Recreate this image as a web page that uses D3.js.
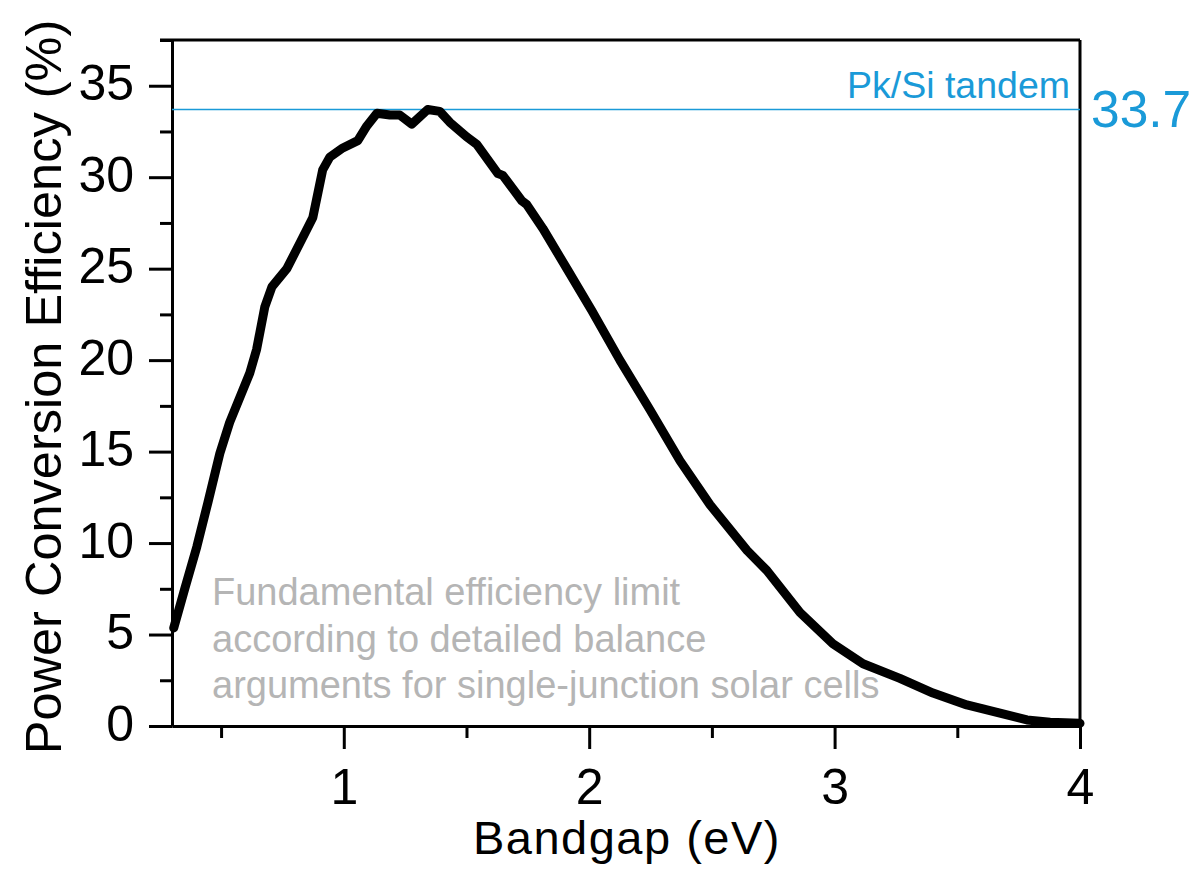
<!DOCTYPE html>
<html>
<head>
<meta charset="utf-8">
<script src="https://cdn.jsdelivr.net/npm/d3@7"></script>
<style>
  html, body { margin: 0; padding: 0; background: #fff; }
  svg { display: block; font-family: Arial, "Liberation Sans", sans-serif; }
</style>
</head>
<body>
<svg id="chart" width="1199" height="873"></svg>
<script>
// ---- Data ----
const bandgap = [0.307, 0.352, 0.401, 0.446, 0.495, 0.535, 0.617, 0.645, 0.678, 0.707,
  0.768, 0.825, 0.874, 0.914, 0.943, 0.996, 1.057, 1.094, 1.135, 1.188,
  1.228, 1.277, 1.342, 1.391, 1.432, 1.501, 1.542, 1.628, 1.648, 1.726,
  1.746, 1.811, 1.909, 2.011, 2.125, 2.247, 2.370, 2.492, 2.643, 2.724,
  2.859, 2.993, 3.116, 3.266, 3.401, 3.539, 3.674, 3.784, 3.878, 4.0];
const efficiency = [5.36, 7.5, 9.79, 12.2, 14.9, 16.6, 19.3, 20.6, 22.9, 24.0,
  25.0, 26.5, 27.8, 30.4, 31.1, 31.6, 32.0, 32.8, 33.5, 33.4,
  33.4, 32.9, 33.7, 33.6, 33.0, 32.2, 31.8, 30.2, 30.1, 28.7,
  28.5, 27.2, 25.0, 22.7, 20.0, 17.3, 14.5, 12.1, 9.6, 8.5,
  6.2, 4.5, 3.4, 2.6, 1.8, 1.15, 0.7, 0.33, 0.2, 0.15];
const tandemValue = 33.7;
const tandemLabel = "Pk/Si tandem";
const xMajorTicks = [1, 2, 3, 4];
const xMinorTicks = [0.5, 1.5, 2.5, 3.5];
const yMajorTicks = [0, 5, 10, 15, 20, 25, 30, 35];
const yMinorTicks = [2.5, 7.5, 12.5, 17.5, 22.5, 27.5, 32.5, 37.5];
const xTitle = "Bandgap (eV)";
const yTitle = "Power Conversion Efficiency (%)";
const noteLines = ["Fundamental efficiency limit",
  "according to detailed balance",
  "arguments for single-junction solar cells"];

// ---- Layout ----
const W = 1199, H = 873;
const m = { left: 172, right: 1199 - 1080, top: 40, bottom: 873 - 726 };
const iw = W - m.left - m.right, ih = H - m.top - m.bottom;
const blue = "#1a9ad8";
const gray = "#b5b5b5";
const FONT = "Arial, 'Liberation Sans', sans-serif";

const svg = d3.select("#chart");
const g = svg.append("g").attr("transform", `translate(${m.left},${m.top})`);

const x = d3.scaleLinear().domain([0.3, 4]).range([0, iw]);
const y = d3.scaleLinear().domain([0, 37.5]).range([ih, 0]);

// frame (top + right)
g.append("line").attr("x1", -12).attr("x2", iw).attr("y1", 0).attr("y2", 0)
  .attr("stroke", "#000").attr("stroke-width", 3);
g.append("line").attr("x1", iw).attr("x2", iw).attr("y1", 0).attr("y2", ih)
  .attr("stroke", "#000").attr("stroke-width", 3);

// axes
function styleAxis(sel) {
  sel.select(".domain").attr("stroke-width", 3);
  sel.selectAll(".tick line").attr("stroke-width", 3);
}
const xMajor = g.append("g").attr("transform", `translate(0,${ih})`)
  .call(d3.axisBottom(x).tickValues(xMajorTicks).tickSize(23).tickSizeOuter(0).tickPadding(19).tickFormat(d3.format("d")));
styleAxis(xMajor);
xMajor.selectAll("text").attr("font-size", 50).attr("fill", "#000").attr("font-family", FONT);
const xMinor = g.append("g").attr("transform", `translate(0,${ih})`)
  .call(d3.axisBottom(x).tickValues(xMinorTicks).tickSize(12).tickSizeOuter(0).tickFormat(""));
styleAxis(xMinor);

const yMajor = g.append("g")
  .call(d3.axisLeft(y).tickValues(yMajorTicks).tickSize(23).tickSizeOuter(0).tickPadding(15).tickFormat(d3.format("d")));
styleAxis(yMajor);
yMajor.selectAll("text").attr("font-size", 50).attr("fill", "#000").attr("font-family", FONT).attr("dy", "0.28em");
const yMinor = g.append("g")
  .call(d3.axisLeft(y).tickValues(yMinorTicks).tickSize(12).tickSizeOuter(0).tickFormat(""));
styleAxis(yMinor);
yMinor.select(".domain").remove();

// tandem line
g.append("line").attr("x1", 0).attr("x2", iw)
  .attr("y1", y(tandemValue)).attr("y2", y(tandemValue))
  .attr("stroke", blue).attr("stroke-width", 1.6);
g.append("text").attr("x", iw - 10).attr("y", y(tandemValue) - 12)
  .attr("text-anchor", "end").attr("font-size", 37.5).attr("fill", blue).text(tandemLabel);
g.append("text").attr("x", iw + 11).attr("y", y(tandemValue) + 17)
  .attr("text-anchor", "start").attr("font-size", 51.5).attr("fill", blue).text(String(tandemValue));

// curve
const data = bandgap.map((b, i) => ({ b, e: efficiency[i] }));
g.append("path").datum(data)
  .attr("fill", "none").attr("stroke", "#000").attr("stroke-width", 9)
  .attr("stroke-linejoin", "round").attr("stroke-linecap", "round")
  .attr("d", d3.line().x(d => x(d.b)).y(d => y(d.e)).curve(d3.curveLinear));

// note
const note = g.append("text").attr("font-size", 38).attr("fill", gray);
noteLines.forEach((t, i) => {
  note.append("tspan").attr("x", 40).attr("y", 565 + i * 46.5).text(t);
});

// axis titles
svg.append("text").attr("x", m.left + iw / 2 + 1).attr("y", 854)
  .attr("text-anchor", "middle").attr("font-size", 47).attr("letter-spacing", 1.5).text(xTitle);
svg.append("text").attr("transform", `translate(61,${m.top + ih / 2 + 4}) rotate(-90)`)
  .attr("text-anchor", "middle").attr("font-size", 50.5).text(yTitle);
</script>
</body>
</html>
